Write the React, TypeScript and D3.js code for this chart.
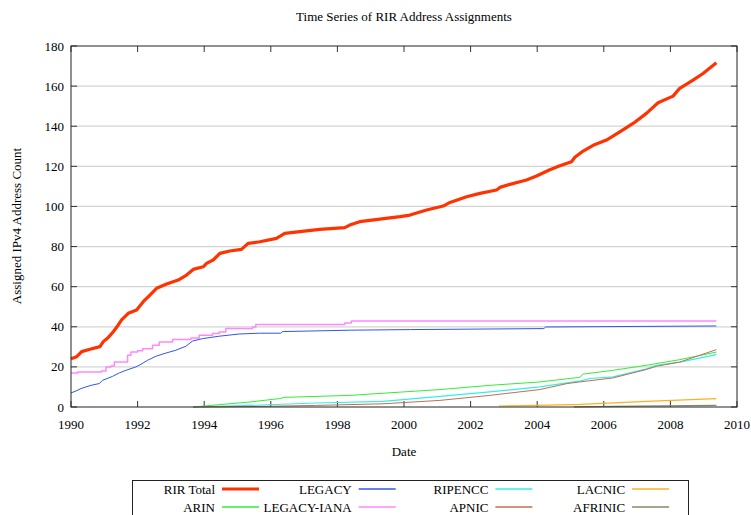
import React from "react";
import * as d3 from "d3";

// ---------- data (decimal years, counts of /8 blocks) ----------
const xTicks = [1990, 1992, 1994, 1996, 1998, 2000, 2002, 2004, 2006, 2008, 2010];
const yTicks = [0, 20, 40, 60, 80, 100, 120, 140, 160, 180];

const totalDates = [1990.0,1990.17,1990.32,1990.57,1990.87,1990.97,1991.12,1991.27,1991.42,1991.52,1991.72,1991.97,1992.17,1992.37,1992.57,1992.87,1993.22,1993.47,1993.67,1993.97,1994.07,1994.27,1994.47,1994.77,1995.12,1995.32,1995.67,1996.17,1996.42,1996.87,1997.47,1998.22,1998.37,1998.67,1999.88,2000.18,2000.68,2001.18,2001.38,2001.88,2002.28,2002.78,2002.88,2003.18,2003.68,2003.98,2004.38,2004.68,2005.03,2005.13,2005.38,2005.68,2006.08,2006.48,2006.88,2007.28,2007.63,2008.08,2008.28,2008.68,2008.98,2009.38];
const totalValues = [24.1,25.1,27.6,28.8,30.1,32.6,34.7,37.5,40.9,43.4,46.7,48.4,52.5,55.8,59.2,61.3,63.3,65.8,68.6,69.9,71.6,73.3,76.6,77.8,78.6,81.6,82.4,84.1,86.6,87.4,88.6,89.4,90.7,92.4,94.9,95.7,98.2,100.2,102,104.8,106.5,108.2,109.5,111,113.2,115.2,118.3,120.3,122.3,124.5,127.6,130.5,133.1,137.2,141.4,146.4,151.7,155,158.9,163,166.3,171.6];

const legacyDates = [1990.0,1990.15,1990.3,1990.6,1990.85,1990.95,1991.25,1991.45,1991.65,1991.95,1992.1,1992.3,1992.55,1992.85,1993.15,1993.45,1993.65,1993.95,1994.45,1995.05,1995.65,1996.3,1996.35,1998.4,2000.2,2004.2,2004.25,2009.38];
const legacyValues = [7.0,8.0,9.2,10.8,11.7,13.3,15.3,17.0,18.3,20.0,21.3,23.3,25.3,26.9,28.3,30.3,32.9,34.1,35.3,36.4,36.8,36.8,37.6,38.3,38.6,39.1,39.9,40.4];

// step levels (each point starts a new level)
const ianaDates = [1990.0,1990.2,1990.92,1991.05,1991.2,1991.3,1991.7,1991.8,1992.0,1992.15,1992.45,1992.65,1993.05,1993.6,1993.85,1994.25,1994.45,1994.65,1995.45,1995.55,1998.22,1998.42,2009.38];
const ianaValues = [17.0,17.4,18.0,20.0,20.5,22.4,25.8,27.4,28.0,29.1,30.8,32.4,33.6,34.4,35.8,36.6,37.4,39.1,39.9,41.1,41.9,42.9,42.9];

const arinDates = [1993.67,1995.37,1996.27,1996.4,1998.38,2001.08,2002.58,2004.08,2005.28,2005.38,2006.28,2007.28,2008.28,2009.38];
const arinValues = [0,2.5,4.2,4.8,5.8,8.7,10.8,12.5,14.8,16.4,18.3,20.8,23.6,27.4];

const ripeDates = [1993.67,1995.37,1997.37,1999.37,2001.08,2002.58,2004.08,2005.3,2005.58,2006.28,2007.28,2007.58,2008.28,2009.38];
const ripeValues = [0,0.8,2.0,2.8,5.3,7.5,10.0,13.0,14.2,15.0,19.0,20.8,22.4,26.1];

const apnicDates = [1993.67,1995.37,1997.37,1999.37,2001.08,2002.58,2004.08,2004.9,2005.28,2006.28,2007.28,2007.58,2008.28,2009.38];
const apnicValues = [0,0.2,0.8,1.6,3.3,5.8,8.7,11.7,12.5,14.5,18.7,20.3,22.4,28.6];

const lacnicDates = [2002.85,2004.0,2005.3,2007.28,2009.38];
const lacnicValues = [0.5,0.8,1.3,2.8,4.2];

const afrinicDates = [2005.1,2007.0,2009.38];
const afrinicValues = [0.1,0.4,0.8];

type Series = { name: string; dates: number[]; values: number[]; color: string; width: number; step?: boolean };
const series: Series[] = [
  { name: "RIR Total", dates: totalDates, values: totalValues, color: "#ff3300", width: 3.2 },
  { name: "ARIN", dates: arinDates, values: arinValues, color: "#33ee33", width: 1 },
  { name: "LEGACY", dates: legacyDates, values: legacyValues, color: "#3355ee", width: 1 },
  { name: "LEGACY-IANA", dates: ianaDates, values: ianaValues, color: "#ff88ff", width: 1.5, step: true },
  { name: "RIPENCC", dates: ripeDates, values: ripeValues, color: "#33eeee", width: 1.2 },
  { name: "APNIC", dates: apnicDates, values: apnicValues, color: "#c07050", width: 1 },
  { name: "LACNIC", dates: lacnicDates, values: lacnicValues, color: "#ffb020", width: 1.2 },
  { name: "AFRINIC", dates: afrinicDates, values: afrinicValues, color: "#888866", width: 1.2 },
];
const legendRows = [
  ["RIR Total", "LEGACY", "RIPENCC", "LACNIC"],
  ["ARIN", "LEGACY-IANA", "APNIC", "AFRINIC"],
];

export default function App() {
  const W = 751, H = 515;
  const L = 71, R = 737, T = 46, B = 407;
  const x = d3.scaleLinear().domain([1990, 2010]).range([L, R]);
  const y = d3.scaleLinear().domain([0, 180]).range([B, T]);
  const font = "'Liberation Serif', 'Times New Roman', serif";

  const mkLine = (s: Series) =>
    d3.line<number>()
      .x((_, i) => x(s.dates[i]))
      .y((v) => y(v))
      .curve(s.step ? d3.curveStepAfter : d3.curveLinear)(s.values) || "";

  const colorOf = (n: string) => series.find((s) => s.name === n)!;

  return (
    <svg width={W} height={H} style={{ position: "absolute", left: 0, top: 0, background: "#fff" }} fontFamily={font}>
      <rect x={0} y={0} width={W} height={H} fill="#fff" />
      <text x={404} y={21} fontSize={13} textAnchor="middle">Time Series of RIR Address Assignments</text>
      {/* grid */}
      {yTicks.filter((t) => t > 0 && t < 180).map((t) => (
        <line key={"g" + t} x1={L} x2={R} y1={y(t)} y2={y(t)} stroke="#d4d4d4" strokeWidth={1.2} />
      ))}
      {/* ticks */}
      {xTicks.map((t) => (
        <g key={"xt" + t}>
          <line x1={x(t)} x2={x(t)} y1={B} y2={B - 6} stroke="#333" />
          <line x1={x(t)} x2={x(t)} y1={T} y2={T + 6} stroke="#333" />
          <text x={x(t)} y={429} fontSize={13} textAnchor="middle">{t}</text>
        </g>
      ))}
      {yTicks.map((t) => (
        <g key={"yt" + t}>
          <line x1={L} x2={L + 6} y1={y(t)} y2={y(t)} stroke="#333" />
          <line x1={R} x2={R - 6} y1={y(t)} y2={y(t)} stroke="#333" />
          <text x={64} y={y(t) + 4.5} fontSize={13} textAnchor="end">{t}</text>
        </g>
      ))}
      {/* series */}
      {series.map((s) => (
        <path key={s.name} d={mkLine(s)} fill="none" stroke={s.color} strokeWidth={s.width} strokeLinejoin="round" />
      ))}
      {/* frame */}
      <rect x={L} y={T} width={R - L} height={B - T} fill="none" stroke="#222" strokeWidth={1} />
      <text x={404} y={456} fontSize={13} textAnchor="middle">Date</text>
      <text transform={`translate(21,226) rotate(-90)`} fontSize={13} textAnchor="middle">Assigned IPv4 Address Count</text>
      {/* legend */}
      <rect x={132.5} y={480.5} width={556} height={45} fill="none" stroke="#222" strokeWidth={1} />
      {legendRows.map((row, r) =>
        row.map((n, c) => {
          const s = colorOf(n);
          const te = 215 + c * 136.7;
          const ly = 489 + r * 18;
          return (
            <g key={n}>
              <text x={te} y={ly + 4.5} fontSize={13} textAnchor="end">{n}</text>
              <line x1={te + 7} x2={te + 44} y1={ly} y2={ly} stroke={s.color} strokeWidth={s.width > 3 ? 3 : 1.5} />
            </g>
          );
        })
      )}
    </svg>
  );
}
